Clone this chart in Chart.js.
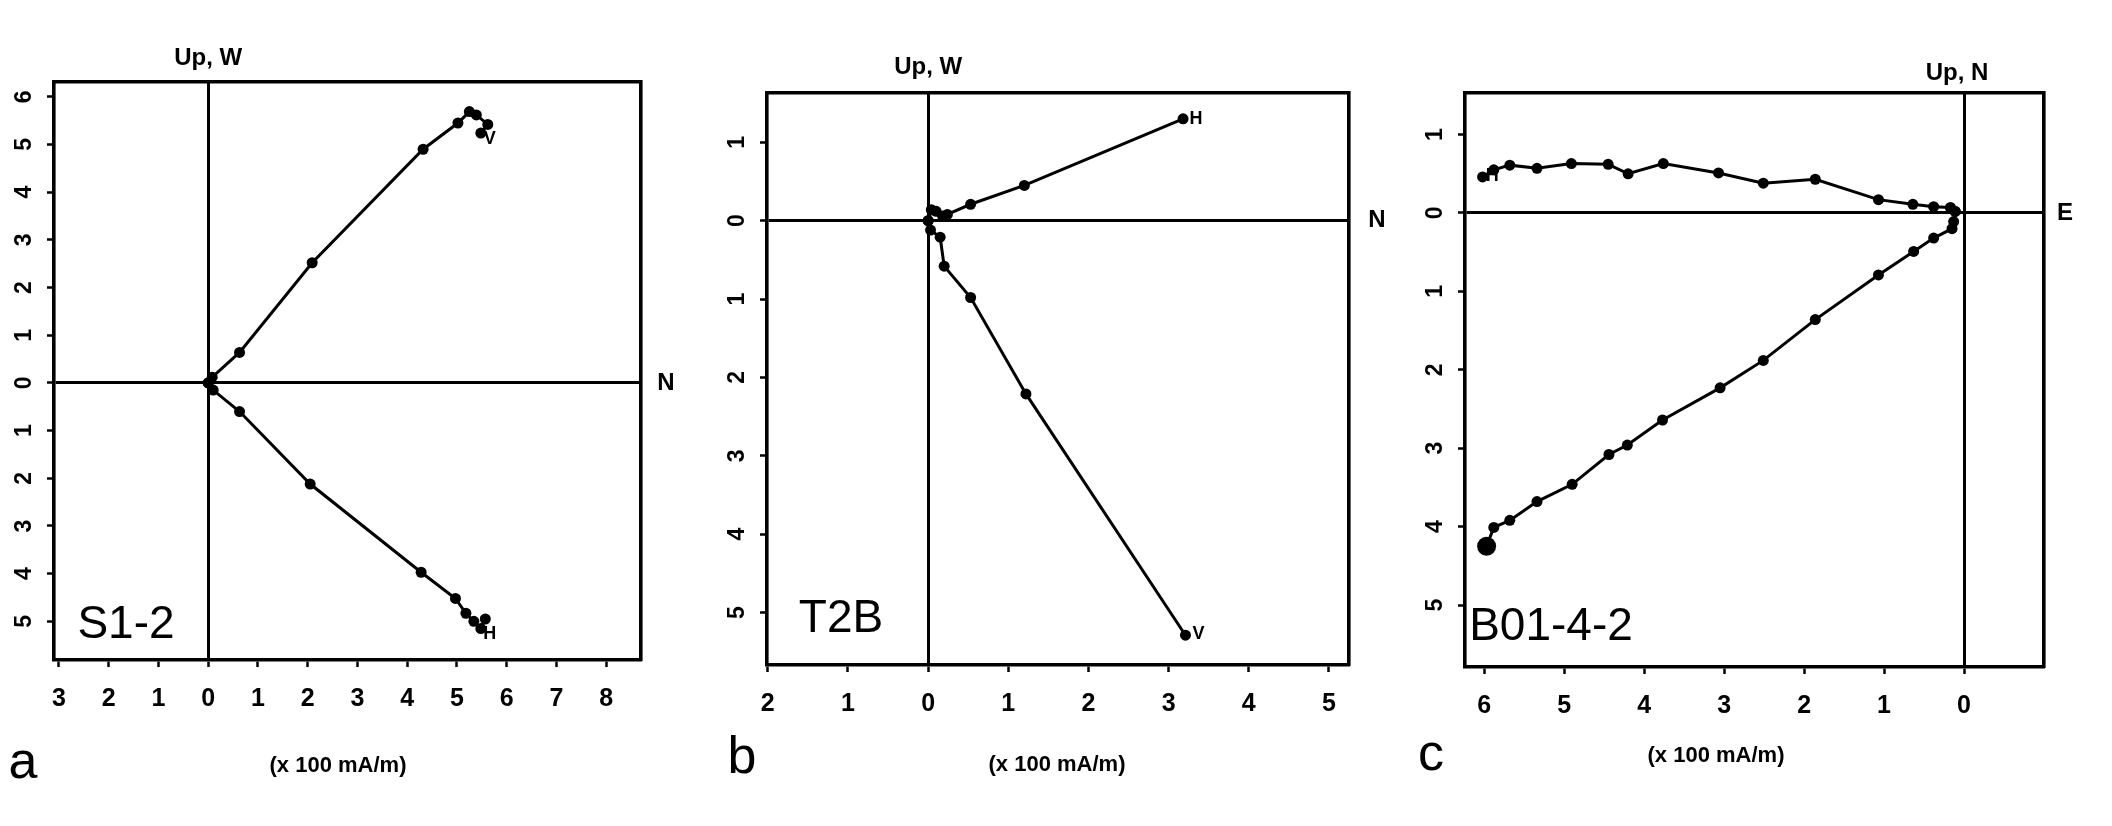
<!DOCTYPE html>
<html><head><meta charset="utf-8">
<script src="https://cdn.jsdelivr.net/npm/chart.js@4"></script>
<style>
html,body{margin:0;padding:0;background:#fff;}
#wrap{position:relative;width:2112px;height:826px;overflow:hidden;background:#fff}
canvas{position:absolute;top:0}
</style></head><body>
<div id="wrap">
<canvas id="ca" width="704" height="826" style="left:0"></canvas>
<canvas id="cb" width="704" height="826" style="left:704px"></canvas>
<canvas id="cc" width="704" height="826" style="left:1408px"></canvas>
</div>
<script>
// ---------- Panel a : S1-2 ----------
const aXTicks = [-3,-2,-1,0,1,2,3,4,5,6,7,8];
const aYTicks = [6,5,4,3,2,1,0,-1,-2,-3,-4,-5];
const aUpperX = [0, 0.08, 0.63, 2.09, 4.32, 5.02, 5.25, 5.39, 5.62, 5.48];
const aUpperY = [0, 0.12, 0.64, 2.52, 4.90, 5.45, 5.69, 5.62, 5.42, 5.24];
const aLowerX = [0, 0.10, 0.63, 2.05, 4.28, 4.97, 5.18, 5.34, 5.48, 5.57];
const aLowerY = [0, -0.15, -0.60, -2.12, -3.97, -4.52, -4.83, -5.00, -5.15, -4.95];

// ---------- Panel b : T2B ----------
const bXTicks = [-2,-1,0,1,2,3,4,5];
const bYTicks = [1,0,-1,-2,-3,-4,-5];
const bUpperX = [0.00, 0.04, 0.10, 0.18, 0.24, 0.53, 1.20, 3.18];
const bUpperY = [0.00, 0.14, 0.12, 0.06, 0.08, 0.21, 0.45, 1.30];
const bLowerX = [0.00, 0.03, 0.15, 0.20, 0.53, 1.22, 3.21];
const bLowerY = [0.00, -0.12, -0.21, -0.58, -0.98, -2.21, -5.29];

// ---------- Panel c : B01-4-2 ----------
const cXTicks = [6,5,4,3,2,1,0];
const cYTicks = [1,0,-1,-2,-3,-4,-5];
const cUpperX = [0.11, 0.17, 0.38, 0.64, 1.07, 1.86, 2.51, 3.07, 3.76, 4.20, 4.45, 4.91, 5.34, 5.68, 5.88, 6.02];
const cUpperY = [0.02, 0.07, 0.08, 0.11, 0.17, 0.43, 0.38, 0.51, 0.63, 0.50, 0.62, 0.63, 0.57, 0.61, 0.55, 0.46];
const cLowerX = [0.11, 0.13, 0.15, 0.38, 0.63, 1.07, 1.86, 2.51, 3.05, 3.77, 4.21, 4.44, 4.90, 5.34, 5.68, 5.88, 5.97];
const cLowerY = [0.02, -0.11, -0.20, -0.32, -0.49, -0.79, -1.36, -1.88, -2.23, -2.64, -2.96, -3.08, -3.46, -3.68, -3.92, -4.01, -4.25];

const FONT = "'Liberation Sans', Arial, Helvetica, sans-serif";
const BLACK = '#000';

function gridOpts(){
  return {
    drawOnChartArea: true,
    color: c => (c.tick && c.tick.value === 0) ? BLACK : 'rgba(0,0,0,0)',
    lineWidth: c => (c.tick && c.tick.value === 0) ? 3 : 1,
    tickColor: BLACK, tickLength: 7, tickWidth: 2.5
  };
}
function xAxis(min, max, ticks, reverse, height){
  return {
    type:'linear', position:'bottom', min, max, reverse,
    afterBuildTicks: s => { s.ticks = ticks.map(v => ({value:v})); },
    afterFit: s => { s.height = height; },
    ticks:{autoSkip:false, maxRotation:0, minRotation:0, padding:17, color:BLACK,
      font:{family:FONT, size:25, weight:'bold'}, callback: v => String(Math.abs(v))},
    grid: gridOpts(),
    border:{display:true, color:BLACK, width:3.6}
  };
}
function yAxis(min, max, ticks, width){
  return {
    type:'linear', position:'left', min, max,
    afterBuildTicks: s => { s.ticks = ticks.map(v => ({value:v})); },
    afterFit: s => { s.width = width; },
    ticks:{autoSkip:false, minRotation:90, maxRotation:90, crossAlign:'center', padding:16, color:BLACK,
      font:{family:FONT, size:23, weight:'bold'}, callback: v => String(Math.abs(v))},
    grid: gridOpts(),
    border:{display:true, color:BLACK, width:3.6}
  };
}
function frameAxis(pos, min, max, reverse){
  const horiz = (pos === 'top');
  return {
    type:'linear', position:pos, min, max, reverse: !!reverse, display:true,
    ticks:{display:false}, grid:{display:false, drawTicks:false},
    border:{display:true, color:BLACK, width:3.6},
    afterFit: s => { if (horiz) s.height = 0; else s.width = 0; }
  };
}
function series(xs, ys, bigLast){
  return {
    data: xs.map((x, i) => ({x, y: ys[i]})),
    showLine:true, borderColor:BLACK, backgroundColor:BLACK, borderWidth:3,
    pointRadius: c => (bigLast && c.dataIndex === xs.length - 1) ? 9.5 : 5.5,
    pointBorderWidth:0, pointHoverRadius:5.5, tension:0, clip:false
  };
}
function textPlugin(items){
  return {
    id:'texts',
    afterDraw(chart){
      const ctx = chart.ctx, sx = chart.scales.x, sy = chart.scales.y;
      items.forEach(t => {
        let px = (t.vx !== undefined) ? sx.getPixelForValue(t.vx) : t.px;
        let py = (t.vy !== undefined) ? sy.getPixelForValue(t.vy) : t.py;
        px += t.dx || 0; py += t.dy || 0;
        ctx.save();
        ctx.font = t.font; ctx.fillStyle = BLACK;
        ctx.textAlign = t.align || 'center';
        ctx.textBaseline = t.baseline || 'middle';
        ctx.translate(px, py);
        ctx.fillText(t.text, 0, 0);
        ctx.restore();
      });
    }
  };
}
function makeChart(id, p){
  new Chart(document.getElementById(id), {
    type:'scatter',
    data:{datasets: p.datasets},
    options:{
      responsive:false, animation:false, events:[],
      layout:{padding:{left:0, top:p.top, right:p.right, bottom:0}},
      plugins:{legend:{display:false}, tooltip:{enabled:false}},
      scales:{
        x: xAxis(p.xmin, p.xmax, p.xticks, !!p.reverse, p.xh),
        y: yAxis(p.ymin, p.ymax, p.yticks, p.yw),
        x2: frameAxis('top', p.xmin, p.xmax, p.reverse),
        y2: frameAxis('right', p.ymin, p.ymax)
      }
    },
    plugins:[textPlugin(p.texts)]
  });
}

const BOLD24 = 'bold 24px ' + FONT;
const TITLE = 'bold 22px ' + FONT;
const LETTER = '52px ' + FONT;
const SAMPLE = '46px ' + FONT;
const PTLAB = 'bold 18px ' + FONT;

makeChart('ca', {
  datasets:[series(aUpperX, aUpperY), series(aLowerX, aLowerY)],
  xmin:-3.1, xmax:8.7, ymin:-5.81, ymax:6.31, xticks:aXTicks, yticks:aYTicks,
  top:82, right:63, yw:54, xh:166,
  texts:[
    {text:'Up, W', vx:0, py:58, font:BOLD24},
    {text:'N', px:666, vy:0, font:BOLD24},
    {text:'(x 100 mA/m)', px:338, py:766, font:TITLE},
    {text:'a', px:23, py:778, font:LETTER, baseline:'alphabetic'},
    {text:'S1-2', px:126, py:638, font:SAMPLE, baseline:'alphabetic'},
    {text:'H', vx:5.66, vy:-5.26, font:PTLAB},
    {text:'V', vx:5.66, vy:5.12, font:PTLAB}
  ]
});
makeChart('cb', {
  datasets:[series(bUpperX, bUpperY), series(bLowerX, bLowerY)],
  xmin:-2.01, xmax:5.25, ymin:-5.67, ymax:1.63, xticks:bXTicks, yticks:bYTicks,
  top:93, right:59, yw:63, xh:161,
  texts:[
    {text:'Up, W', vx:0, py:67, font:BOLD24},
    {text:'N', px:673, vy:0, font:BOLD24},
    {text:'(x 100 mA/m)', px:353, py:765, font:TITLE},
    {text:'b', px:38, py:773, font:LETTER, baseline:'alphabetic'},
    {text:'T2B', px:137, py:632, font:SAMPLE, baseline:'alphabetic'},
    {text:'H', vx:3.18, vy:1.30, dx:13, font:PTLAB},
    {text:'V', vx:3.21, vy:-5.29, dx:13, dy:-1, font:PTLAB}
  ]
});
makeChart('cc', {
  datasets:[series(cUpperX, cUpperY), series(cLowerX, cLowerY, true)],
  xmin:-1.0, xmax:6.24, reverse:true, ymin:-5.79, ymax:1.53, xticks:cXTicks, yticks:cYTicks,
  top:93, right:68, yw:57, xh:159,
  texts:[
    {text:'Up, N', px:549, py:73, font:BOLD24},
    {text:'E', px:657, vy:0, font:BOLD24},
    {text:'(x 100 mA/m)', px:308, py:756, font:TITLE},
    {text:'c', px:23, py:770, font:LETTER, baseline:'alphabetic'},
    {text:'B01-4-2', px:143, py:640, font:SAMPLE, baseline:'alphabetic'},
    {text:'H', vx:5.90, vy:0.47, font:PTLAB}
  ]
});
</script>
</body></html>
